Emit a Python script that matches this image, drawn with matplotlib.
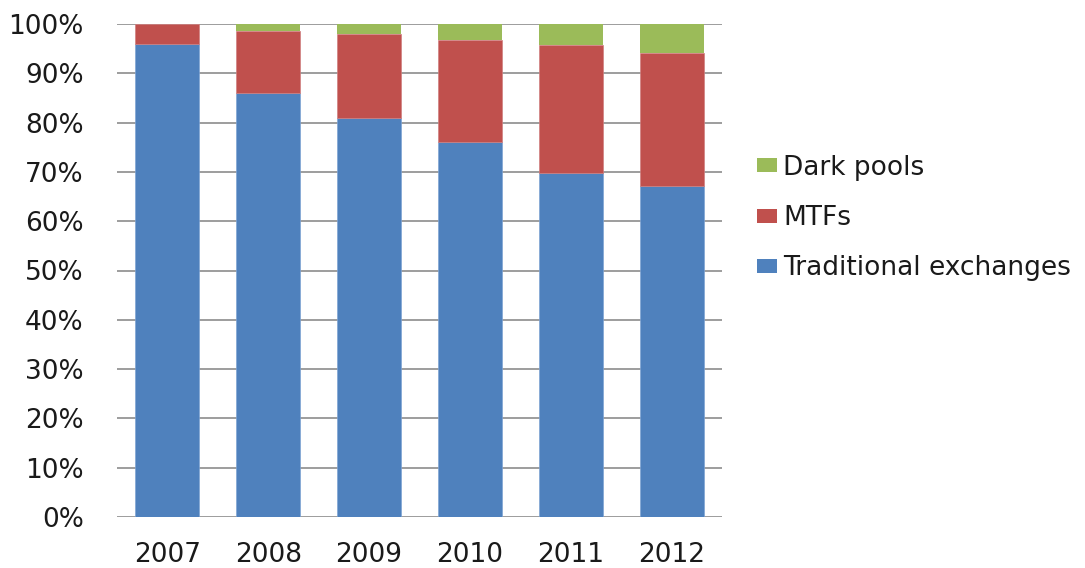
import numpy as np
import matplotlib.pyplot as plt
from matplotlib.patches import Patch

# share of trading volume by venue type (% of total)
years = ['2007', '2008', '2009', '2010', '2011', '2012']
traditional = [95.9, 86.0, 81.0, 76.0, 69.8, 67.1]
mtfs = [4.1, 12.6, 17.0, 20.7, 26.0, 27.0]
dark_pools = [0.0, 1.4, 2.0, 3.3, 4.2, 5.9]

col_trad = '#4f81bd'
col_mtf = '#c0504d'
col_dark = '#9bbb59'
txt_col = '#1a1a1a'

plt.rcParams['font.family'] = ['DejaVu Sans']

fig = plt.figure(figsize=(10.85, 5.68), dpi=100)
ax = fig.add_axes([117/1085, 1 - 517/568, (722 - 117)/1085, (517 - 24)/568])

x = np.arange(len(years))
w = 0.634
trad = np.array(traditional)
mtf = np.array(mtfs)
dark = np.array(dark_pools)
ax.bar(x, trad, w, color=col_trad, zorder=2, edgecolor='#7ea4d4', linewidth=0.5)
ax.bar(x, mtf, w, bottom=trad, color=col_mtf, zorder=2, edgecolor='#d08080', linewidth=0.5)
ax.bar(x, dark, w, bottom=trad + mtf, color=col_dark, zorder=2, linewidth=0)

ax.set_xlim(-0.5, len(years) - 0.5)
ax.set_ylim(0, 100)
ax.set_yticks(np.arange(0, 101, 10))
ax.set_yticklabels(['{0}%'.format(v) for v in range(0, 101, 10)])
ax.set_xticks(x)
ax.set_xticklabels(years)
ax.tick_params(axis='y', length=0, pad=24, labelsize=19, labelcolor=txt_col)
ax.tick_params(axis='x', length=0, pad=18, labelsize=19, labelcolor=txt_col)
ax.yaxis.grid(True, color='#8c8c8c', linewidth=1.2, zorder=1)
ax.set_axisbelow(True)
for s in ax.spines.values():
  s.set_visible(False)

handles = [Patch(facecolor=col_dark, label='Dark pools'),
           Patch(facecolor=col_mtf, label='MTFs'),
           Patch(facecolor=col_trad, label='Traditional exchanges')]
leg = fig.legend(handles=handles, loc='center left', bbox_to_anchor=(757/1085, 1 - 218/568),
                 frameon=False, fontsize=19, handlelength=0.75, handleheight=0.45,
                 handletextpad=0.25, labelspacing=0.92, borderpad=0, borderaxespad=0)
for t in leg.get_texts():
  t.set_color(txt_col)

fig.savefig('out.png', dpi=100)
